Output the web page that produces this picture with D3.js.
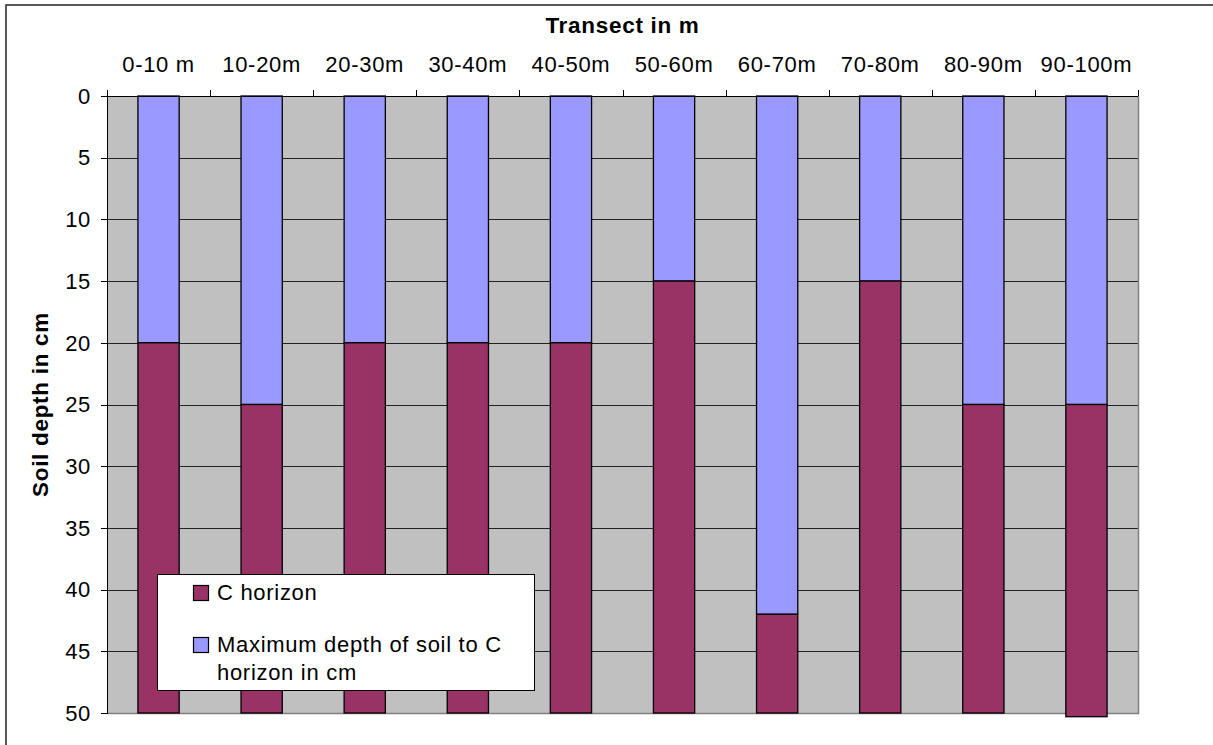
<!DOCTYPE html>
<html>
<head>
<meta charset="utf-8">
<script src="https://cdn.jsdelivr.net/npm/d3@7"></script>
<style>
  html, body { margin: 0; padding: 0; background: #fff; }
  svg { display: block; font-family: "Liberation Sans", Arial, sans-serif; }
</style>
</head>
<body>
<svg id="chart" width="1213" height="745"></svg>
<script>
// Transect segments along the slope
const segments = ["0-10 m", "10-20m", "20-30m", "30-40m", "40-50m", "50-60m", "60-70m", "70-80m", "80-90m", "90-100m"];
// Soil depth down to the C horizon (cm)
const soilDepth = [20, 25, 20, 20, 20, 15, 42, 15, 25, 25];
// Thickness of the C horizon below that (cm)
const cHorizon = [30, 25, 30, 30, 30, 35, 8, 35, 25, 25.3];
// Depth axis ticks (cm)
const depthTicks = [0, 5, 10, 15, 20, 25, 30, 35, 40, 45, 50];

const seriesNames = {
  soil: "Maximum depth of soil to C horizon in cm",
  c: "C horizon"
};
const colors = { soil: "#9999FF", c: "#993366" };

const svg = d3.select("#chart");
const LS = "0.7px"; // letter spacing for all chart text

// Outer chart frame (runs off the right and bottom of the page)
svg.append("rect")
  .attr("x", 6).attr("y", 5)
  .attr("width", 1300).attr("height", 800)
  .attr("fill", "none").attr("stroke", "#222").attr("stroke-width", 1.5);

const plot = { left: 107, right: 1138, top: 96, bottom: 713 };

const x = d3.scaleBand()
  .domain(segments)
  .range([plot.left, plot.right])
  .paddingInner(0.6)
  .paddingOuter(0.3);

const y = d3.scaleLinear()
  .domain([0, 50])
  .range([plot.top, plot.bottom]);

// Plot background
svg.append("rect")
  .attr("x", plot.left).attr("y", plot.top)
  .attr("width", plot.right - plot.left).attr("height", plot.bottom - plot.top)
  .attr("fill", "#C0C0C0");

// Horizontal gridlines
svg.append("g")
  .selectAll("line")
  .data(depthTicks.slice(1, -1))
  .join("line")
  .attr("x1", plot.left).attr("x2", plot.right)
  .attr("y1", d => Math.round(y(d)) + 0.5).attr("y2", d => Math.round(y(d)) + 0.5)
  .attr("stroke", "#222").attr("stroke-width", 1.2);

// Right and bottom plot border
svg.append("path")
  .attr("d", `M${plot.right + 0.5},${plot.top} V${plot.bottom + 0.5} H${plot.left}`)
  .attr("fill", "none").attr("stroke", "#808080").attr("stroke-width", 1.5);

// Stacked columns: soil depth from the surface, C horizon below it
const rows = segments.map((s, i) => ({ seg: s, soil: soilDepth[i], c: cHorizon[i] }));
const stack = d3.stack().keys(["soil", "c"]);
const layers = stack(rows);

svg.append("g")
  .selectAll("g")
  .data(layers)
  .join("g")
  .attr("fill", d => colors[d.key])
  .selectAll("rect")
  .data(d => d)
  .join("rect")
  .attr("x", d => x(d.data.seg))
  .attr("y", d => y(d[0]))
  .attr("width", x.bandwidth())
  .attr("height", d => y(d[1]) - y(d[0]))
  .attr("stroke", "#000")
  .attr("stroke-width", 1.3);

// Category axis along the top with ticks at the segment boundaries
const boundaries = segments.map(s => x(s) - x.step() * x.paddingOuter()).concat([plot.right]);
svg.append("line")
  .attr("x1", plot.left).attr("x2", plot.right)
  .attr("y1", plot.top + 0.5).attr("y2", plot.top + 0.5)
  .attr("stroke", "#000").attr("stroke-width", 1);
svg.append("g")
  .selectAll("line")
  .data(boundaries)
  .join("line")
  .attr("x1", d => Math.round(d) + 0.5).attr("x2", d => Math.round(d) + 0.5)
  .attr("y1", plot.top).attr("y2", plot.top - 6)
  .attr("stroke", "#000");
svg.append("g")
  .selectAll("text")
  .data(segments)
  .join("text")
  .attr("x", d => x(d) + x.bandwidth() / 2)
  .attr("y", 72)
  .attr("text-anchor", "middle")
  .attr("font-size", 22)
  .attr("letter-spacing", LS)
  .attr("fill", "#000")
  .text(d => d);

// Depth axis on the left
svg.append("line")
  .attr("x1", plot.left + 0.5).attr("x2", plot.left + 0.5)
  .attr("y1", plot.top).attr("y2", plot.bottom + 1)
  .attr("stroke", "#000").attr("stroke-width", 1);
svg.append("g")
  .selectAll("line")
  .data(depthTicks)
  .join("line")
  .attr("x1", plot.left - 6).attr("x2", plot.left)
  .attr("y1", d => Math.round(y(d)) + 0.5).attr("y2", d => Math.round(y(d)) + 0.5)
  .attr("stroke", "#000");
svg.append("g")
  .selectAll("text")
  .data(depthTicks)
  .join("text")
  .attr("x", 91)
  .attr("y", d => y(d))
  .attr("dy", "0.35em")
  .attr("text-anchor", "end")
  .attr("font-size", 22)
  .attr("letter-spacing", LS)
  .attr("fill", "#000")
  .text(d => d);

// Axis titles
svg.append("text")
  .attr("x", (plot.left + plot.right) / 2)
  .attr("y", 33)
  .attr("text-anchor", "middle")
  .attr("font-size", 22.5)
  .attr("font-weight", "bold")
  .attr("letter-spacing", LS)
  .text("Transect in m");

svg.append("text")
  .attr("transform", `translate(48,${(plot.top + plot.bottom) / 2}) rotate(-90)`)
  .attr("text-anchor", "middle")
  .attr("font-size", 22.5)
  .attr("font-weight", "bold")
  .attr("letter-spacing", LS)
  .text("Soil depth in cm");

// Legend
const legend = svg.append("g");
legend.append("rect")
  .attr("x", 157.5).attr("y", 574.5)
  .attr("width", 377).attr("height", 116)
  .attr("fill", "#fff").attr("stroke", "#000").attr("stroke-width", 1);

const legendItems = [
  { key: "c", lines: [seriesNames.c], top: 585 },
  { key: "soil", lines: ["Maximum depth of soil to C", "horizon in cm"], top: 637 }
];
legendItems.forEach(item => {
  legend.append("rect")
    .attr("x", 193.5).attr("y", item.top + 0.5)
    .attr("width", 15).attr("height", 15)
    .attr("fill", colors[item.key]).attr("stroke", "#000").attr("stroke-width", 1.2);
  const t = legend.append("text")
    .attr("x", 217).attr("y", item.top + 15)
    .attr("font-size", 22).attr("letter-spacing", LS).attr("fill", "#000");
  item.lines.forEach((ln, i) => {
    t.append("tspan").attr("x", 217).attr("dy", i === 0 ? 0 : 28).text(ln);
  });
});
</script>
</body>
</html>
